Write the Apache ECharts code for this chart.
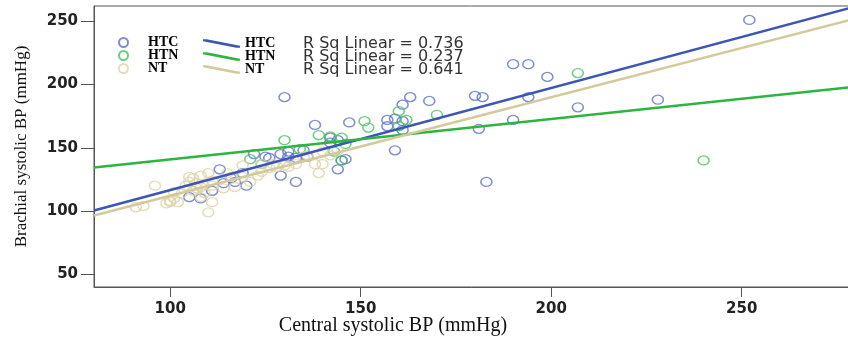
<!DOCTYPE html>
<html>
<head>
<meta charset="utf-8">
<script src="https://cdn.jsdelivr.net/npm/echarts@6.0.0/dist/echarts.min.js"></script>
<style>
  html, body { margin: 0; padding: 0; background: #fff; }
  #container { width: 848px; height: 347px; }
</style>
</head>
<body>
<div id="container"></div>
<script>
var dom = document.getElementById('container');
var myChart = echarts.init(dom, null, { renderer: 'canvas' });

// groups
var groups = ['HTC', 'HTN', 'NT'];
var rSquared = ['0.736', '0.237', '0.641'];

// central systolic BP (x), brachial systolic BP (y)
var htcPoints = [
    [252, 251], [190, 216], [194, 216], [199, 206], [163, 190], [161, 184], [168, 187],
    [180, 191], [182, 190], [194, 190], [228, 188], [207, 182], [157, 172], [157, 167],
    [159, 173], [161, 171], [161, 164], [181, 165], [190, 172], [159, 148], [183, 123],
    [130, 190], [138, 168], [147, 170], [122, 145], [129, 145], [126, 142], [131, 143],
    [133, 142], [113, 133], [142, 154], [144, 156], [146, 141], [145, 140], [144, 133],
    [129, 128], [133, 123], [120, 120], [117, 123], [114, 122], [111, 116], [105, 111],
    [108, 110], [142, 158], [135, 148], [136, 143], [125, 143], [119, 130], [116, 126],
    [131, 147]
];
var htnPoints = [
    [207, 209], [240, 140], [160, 179], [170, 176], [151, 171], [152, 166], [162, 172],
    [160, 167], [130, 156], [139, 160], [142, 159], [134, 149], [121, 141], [124, 137],
    [145, 140], [143, 147], [145, 158], [146, 153]
];
var ntPoints = [
    [96, 120], [91, 103], [93, 104], [100, 108], [99, 106], [101, 110], [100, 107],
    [110, 99], [111, 107], [108, 111], [109, 114], [106, 116], [107, 118], [105, 127],
    [106, 126], [108, 128], [110, 130], [111, 124], [104, 120], [107, 122], [103, 114],
    [102, 107], [139, 130], [115, 130], [119, 136], [116, 127], [117, 119], [121, 123],
    [123, 128], [124, 131], [126, 134], [128, 135], [130, 136], [131, 135], [133, 137],
    [135, 143], [136, 144], [127, 137], [124, 137], [119, 127], [114, 118], [111, 120],
    [105, 123], [108, 119], [101, 115], [144, 148], [140, 147], [142, 144], [140, 137],
    [138, 137]
];

// linear fit lines, value at x = 80 and x = 280
var fitX = [80, 280];
var htcFit = [100.5, 261.7];
var htnFit = [134.5, 198.3];
var ntFit = [96.5, 252.2];

var xTicks = [100, 150, 200, 250];
var yTicks = [50, 100, 150, 200, 250];

var markerColors = ['#5b70c8', '#46c05c', '#ddd3a6'];
var lineColors = ['#3c56b5', '#2cb53f', '#d3c99b'];

var pointSets = [htcPoints, htnPoints, ntPoints];
var fitSets = [htcFit, htnFit, ntFit];

var series = [];
for (var i = 0; i < groups.length; i++) {
    series.push({
        name: groups[i],
        type: 'scatter',
        symbol: 'circle',
        symbolSize: [11, 9],
        itemStyle: {
            color: 'rgba(255,255,255,0)',
            borderColor: markerColors[i],
            borderWidth: 1.4
        },
        data: pointSets[i]
    });
}
for (var j = 0; j < groups.length; j++) {
    series.push({
        name: groups[j] + ' fit',
        type: 'line',
        showSymbol: false,
        itemStyle: { color: lineColors[j] },
        lineStyle: { color: lineColors[j], width: 2.5 },
        data: [[fitX[0], fitSets[j][0]], [fitX[1], fitSets[j][1]]]
    });
}

var nameFont = { fontFamily: 'Liberation Serif', fontWeight: 'bold', fontSize: 14, color: '#000' };

var option = {
    animation: false,
    grid: {
        left: 94, right: -8, top: 6, bottom: 60,
        outerBoundsMode: 'none',
        containLabel: false,
        show: true, borderColor: '#555', borderWidth: 1
    },
    legend: [
        {
            orient: 'vertical',
            left: 118, top: 35.5,
            padding: 0,
            itemWidth: 11, itemHeight: 9, itemGap: -1,
            data: groups,
            textStyle: Object.assign({ padding: [0, 0, 0, 14], lineHeight: 10 }, nameFont)
        },
        {
            orient: 'vertical',
            left: 203, top: 35.5,
            padding: 0,
            itemWidth: 37, itemHeight: 9, itemGap: -3,
            icon: 'path://M0,0 L4,0 L40,7 L40,9 L36,9 L0,2 Z',
            data: groups.map(function (g) { return g + ' fit'; }),
            formatter: function (name) {
                var k = groups.indexOf(name.replace(' fit', ''));
                return '{n|' + groups[k] + '}{r|R Sq Linear = ' + rSquared[k] + '}';
            },
            textStyle: {
                rich: {
                    n: Object.assign({ width: 58 }, nameFont),
                    r: { fontFamily: 'DejaVu Sans', fontSize: 16, color: '#333' }
                }
            }
        }
    ],
    xAxis: {
        type: 'value',
        min: 80, max: 280,
        name: 'Central systolic BP (mmHg)',
        nameLocation: 'middle',
        nameGap: 29,
        nameMoveOverlap: false,
        nameTextStyle: {
            fontFamily: 'Liberation Serif', fontSize: 20, color: '#111',
            padding: [0, 164, 0, 0]
        },
        axisLine: { show: true, lineStyle: { color: '#555', width: 1 } },
        axisTick: { show: true, length: 10, customValues: xTicks, lineStyle: { color: '#555' } },
        axisLabel: {
            customValues: xTicks, margin: 15,
            fontFamily: 'DejaVu Sans', fontWeight: 'bold', fontSize: 15, color: '#222'
        },
        splitLine: { show: false }
    },
    yAxis: {
        type: 'value',
        min: 40, max: 262,
        name: 'Brachial systolic BP (mmHg)',
        nameLocation: 'middle',
        nameGap: 64,
        nameMoveOverlap: false,
        nameTextStyle: { fontFamily: 'Liberation Serif', fontSize: 17, color: '#111' },
        axisLine: { show: true, lineStyle: { color: '#555', width: 1 } },
        axisTick: { show: true, length: 13, customValues: yTicks, lineStyle: { color: '#555' } },
        axisLabel: {
            customValues: yTicks, margin: 16,
            fontFamily: 'DejaVu Sans', fontWeight: 'bold', fontSize: 15, color: '#222'
        },
        splitLine: { show: false }
    },
    series: series
};

myChart.setOption(option);
window.addEventListener('resize', myChart.resize);
</script>
</body>
</html>
